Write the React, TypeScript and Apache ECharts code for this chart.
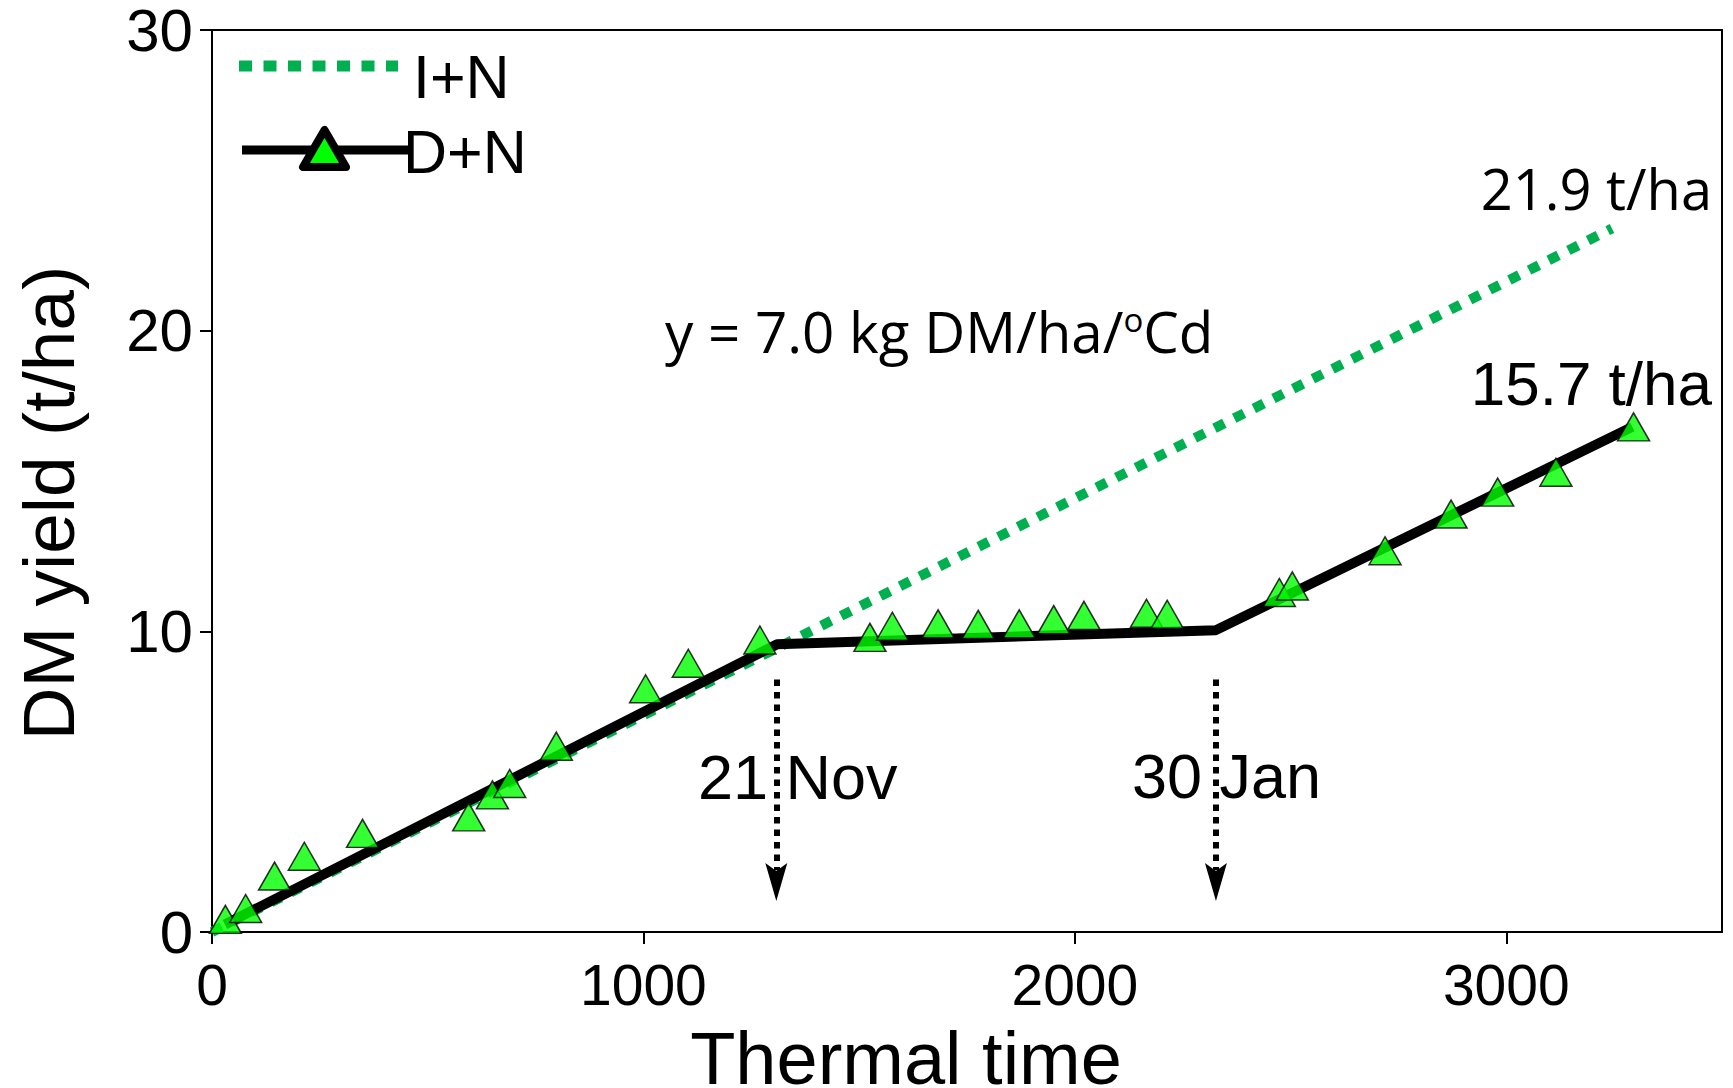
import React, { useEffect, useRef } from 'react';
import * as echarts from 'echarts';

// D+N measured points (thermal time, DM yield t/ha)
const pointTime = [31, 78, 145, 214, 349, 595, 650, 690, 798, 1005, 1104, 1270, 1525, 1577, 1683, 1776, 1871, 1951, 2021, 2166, 2214, 2474, 2504, 2719, 2872, 2980, 3115, 3295];
const pointYield = [0.42, 0.78, 1.86, 2.52, 3.28, 3.83, 4.56, 4.94, 6.18, 8.09, 8.94, 9.71, 9.8, 10.17, 10.25, 10.23, 10.25, 10.39, 10.53, 10.6, 10.57, 11.29, 11.51, 12.68, 13.9, 14.63, 15.29, 16.8];

// D+N fitted broken-stick line
const fitTime = [30, 1310, 2327, 3292];
const fitYield = [0.25, 9.57, 10.04, 16.8];

// I+N potential line
const potTime = [0, 3245];
const potYield = [0, 23.4];

// date arrows (dotted shaft from arrowFrom to arrowShaftEnd, head tip at arrowTip)
const arrowTimes = [1308, 2327];
const arrowFrom = 8.4;
const arrowShaftEnd = 2.05;
const arrowTip = 1.03;

const xTicks = [0, 1000, 2000, 3000];
const yTicks = [0, 10, 20, 30];

const seriesNames = ['I+N', 'D+N'];
const equationText = ['y = 7.0 kg DM/ha/', 'o', 'Cd'];
const endLabels = ['21.9 t/ha', '15.7 t/ha'];
const dateLabels = ['21 Nov', '30 Jan'];

export default function App() {
  const ref = useRef<HTMLDivElement>(null);
  useEffect(() => {
    document.body.style.margin = '0';
    const chart = echarts.init(ref.current!, null, { renderer: 'svg' });
    const AR = '"Liberation Sans", Arial, sans-serif';
    const CAL = '"Open Sans", sans-serif';
    const option: any = {
      animation: false,
      backgroundColor: '#ffffff',
      grid: {
        left: 212, right: 11, top: 30, bottom: 156,
        show: true, borderColor: '#000', borderWidth: 2, backgroundColor: 'transparent',
      },
      xAxis: {
        type: 'value', min: 0, max: 3500, interval: 1000,
        axisLine: { show: true, onZero: false, lineStyle: { color: '#000', width: 2 } },
        axisTick: { show: true, length: 12, customValues: xTicks, lineStyle: { color: '#000', width: 2 } },
        axisLabel: {
          customValues: xTicks, margin: 24, color: '#000', fontSize: 57, fontFamily: AR,
          formatter: (v: number) => String(v),
        },
        splitLine: { show: false },
      },
      yAxis: {
        type: 'value', min: 0, max: 30, interval: 10,
        axisLine: { show: true, onZero: false, lineStyle: { color: '#000', width: 2 } },
        axisTick: { show: true, length: 12, customValues: yTicks, lineStyle: { color: '#000', width: 2 } },
        axisLabel: {
          customValues: yTicks, margin: 19, color: '#000', fontSize: 60, fontFamily: AR,
          lineHeight: 50, padding: [6, 0, 0, 0],
          formatter: (v: number) => String(v),
        },
        splitLine: { show: false },
      },
      series: [
        {
          name: seriesNames[0],
          type: 'line',
          data: potTime.map((t, i) => [t, potYield[i]]),
          showSymbol: false,
          symbol: 'none',
          lineStyle: { color: '#00b050', width: 10, type: [11, 11], cap: 'butt' },
          z: 2,
        },
        {
          name: seriesNames[1] + ' fit',
          type: 'line',
          data: fitTime.map((t, i) => [t, fitYield[i]]),
          showSymbol: false,
          symbol: 'none',
          lineStyle: { color: '#000', width: 10 },
          z: 3,
          markLine: {
            silent: true,
            symbol: ['none', 'none'],
            label: { show: false },
            lineStyle: { color: '#000', width: 6, type: [6.5, 6], cap: 'butt' },
            data: arrowTimes.map((t) => [
              { coord: [t, arrowFrom] },
              { coord: [t, arrowShaftEnd] },
            ]),
          },
          markPoint: {
            silent: true,
            symbol: 'path://M-11,0 L0,8 L11,0 L0,38 Z',
            symbolSize: [22, 38],
            symbolKeepAspect: false,
            symbolOffset: [0, -19],
            itemStyle: { color: '#000' },
            label: { show: false },
            data: arrowTimes.map((t) => ({ coord: [t, arrowTip] })),
          },
        },
        {
          name: seriesNames[1],
          type: 'scatter',
          data: pointTime.map((t, i) => [t, pointYield[i]]),
          symbol: 'triangle',
          symbolSize: [32, 28],
          itemStyle: { color: '#00ff00', borderColor: '#000', borderWidth: 1.5 },
          z: 4,
        },
      ],
      graphic: [
        // legend
        { type: 'line', z: 10, shape: { x1: 239, y1: 66, x2: 398, y2: 66 }, style: { stroke: '#00b050', lineWidth: 11, lineDash: [13, 11.5] } },
        { type: 'line', z: 10, shape: { x1: 242, y1: 150, x2: 408, y2: 150 }, style: { stroke: '#000', lineWidth: 9 } },
        { type: 'polygon', z: 11, shape: { points: [[324.5, 130], [303, 167], [346, 167]] }, style: { fill: '#00ff00', stroke: '#000', lineWidth: 8, lineJoin: 'round' } },
        { type: 'text', z: 10, x: 413, y: 77, style: { text: seriesNames[0], fontSize: 61, fontFamily: AR, fill: '#000', textAlign: 'left', textVerticalAlign: 'middle' } },
        { type: 'text', z: 10, x: 403, y: 152, style: { text: seriesNames[1], fontSize: 61, fontFamily: AR, fill: '#000', textAlign: 'left', textVerticalAlign: 'middle' } },
        // equation
        {
          type: 'text', z: 10, x: 665, y: 331,
          style: {
            text: `{a|${equationText[0]}}{s|${equationText[1]}}{a|${equationText[2]}}`,
            textAlign: 'left', textVerticalAlign: 'middle',
            rich: {
              a: { fontSize: 56.5, fontFamily: CAL, color: '#000' },
              s: { fontSize: 33, fontFamily: CAL, color: '#000', verticalAlign: 'top' },
            },
          },
        },
        // end labels
        { type: 'text', z: 10, x: 1712, y: 188, style: { text: endLabels[0], fontSize: 56, fontFamily: CAL, fill: '#000', textAlign: 'right', textVerticalAlign: 'middle' } },
        { type: 'text', z: 10, x: 1712, y: 383.5, style: { text: endLabels[1], fontSize: 62, fontFamily: AR, fill: '#000', textAlign: 'right', textVerticalAlign: 'middle' } },
        // date labels
        { type: 'text', z: 10, x: 698, y: 776.5, style: { text: dateLabels[0], fontSize: 63, fontFamily: AR, fill: '#000', textAlign: 'left', textVerticalAlign: 'middle' } },
        { type: 'text', z: 10, x: 1132, y: 775.5, style: { text: dateLabels[1], fontSize: 63, fontFamily: AR, fill: '#000', textAlign: 'left', textVerticalAlign: 'middle' } },
        // axis titles
        { type: 'text', z: 10, x: 906, y: 1058.5, style: { text: 'Thermal time', fontSize: 74, fontFamily: AR, fill: '#000', textAlign: 'center', textVerticalAlign: 'middle', lineHeight: 56 } },
        { type: 'text', z: 10, x: 48, y: 503, rotation: Math.PI / 2, style: { text: 'DM yield (t/ha)', fontSize: 73, fontFamily: AR, fill: '#000', textAlign: 'center', textVerticalAlign: 'middle' } },
      ],
    };
    chart.setOption(option);
    return () => chart.dispose();
  }, []);
  return <div ref={ref} style={{ width: 1733, height: 1088, position: 'absolute', left: 0, top: 0 }} />;
}
